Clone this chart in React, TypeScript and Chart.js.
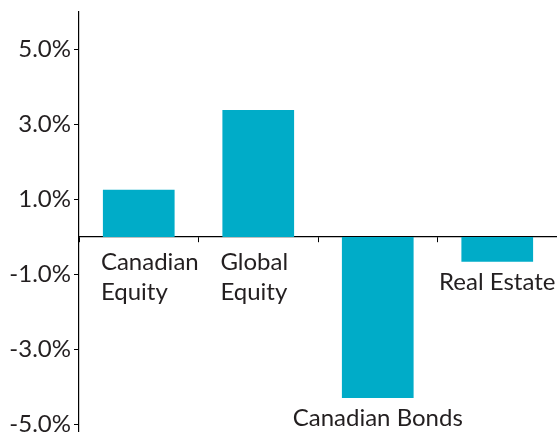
import React, { useEffect, useRef } from "react";
import { Chart, registerables } from "chart.js";

Chart.register(...registerables);

const categories = ["Canadian Equity", "Global Equity", "Canadian Bonds", "Real Estate"];
const labelLines = [["Canadian", "Equity"], ["Global", "Equity"], ["Canadian Bonds"], ["Real Estate"]];
const values = [1.26, 3.39, -4.29, -0.66];
const yTickValues = [-5, -3, -1, 1, 3, 5];
const yMin = -5.2;
const yMax = 6;

const FONT = "Lato";
const FONT_SIZE = 24;
const TEXT_COLOR = "#231f20";
const BAR_COLOR = "#00acc8";

const labelPlugin = {
  id: "barLabels",
  afterDatasetsDraw(chart: any) {
    const ctx = chart.ctx;
    const meta = chart.getDatasetMeta(0);
    const yScale = chart.scales.y;
    const zero = yScale.getPixelForValue(0);
    ctx.save();
    ctx.fillStyle = TEXT_COLOR;
    ctx.font = `${FONT_SIZE}px ${FONT}`;
    ctx.textBaseline = "alphabetic";
    meta.data.forEach((bar: any, i: number) => {
      const v = values[i];
      const lines = labelLines[i];
      const ref = v >= 0 ? zero + 5 : bar.y;
      const baseline = ref + 28;
      const multi = lines.length > 1;
      const left = bar.x - bar.width / 2 - 2;
      ctx.textAlign = multi ? "left" : "center";
      lines.forEach((line: string, j: number) => {
        ctx.fillText(line, multi ? left : bar.x, baseline + j * 30);
      });
    });
    ctx.restore();
  },
};

export default function App() {
  const ref = useRef<HTMLCanvasElement | null>(null);
  useEffect(() => {
    document.body.style.margin = "0";
    const chart = new Chart(ref.current as HTMLCanvasElement, {
      type: "bar",
      data: {
        labels: categories,
        datasets: [
          {
            data: values,
            backgroundColor: BAR_COLOR,
            borderWidth: 0,
            barPercentage: 0.6,
            categoryPercentage: 1,
          },
        ],
      },
      options: {
        animation: false,
        responsive: false,
        layout: { padding: 0 },
        plugins: { legend: { display: false }, tooltip: { enabled: false } },
        scales: {
          x: {
            position: { y: 0 } as any,
            offset: true,
            ticks: { display: false },
            grid: {
              display: true,
              offset: true,
              drawOnChartArea: false,
              drawTicks: true,
              tickLength: 5,
              color: "#000",
              lineWidth: 1,
            },
            border: { display: true, color: "#000", width: 1.2 },
          },
          y: {
            min: yMin,
            max: yMax,
            afterBuildTicks(scale: any) {
              scale.ticks = yTickValues.map((v) => ({ value: v }));
            },
            afterFit(scale: any) {
              scale.width = 79;
              scale.paddingTop = 12;
              scale.paddingBottom = 0;
            },
            ticks: {
              color: TEXT_COLOR,
              font: { family: FONT, size: FONT_SIZE },
              padding: 3,
              callback: (v: any) => `${Number(v).toFixed(1)}%`,
            },
            grid: {
              display: true,
              drawOnChartArea: false,
              drawTicks: true,
              tickLength: 5,
              color: "#000",
            },
            border: { display: true, color: "#000", width: 1.2 },
          },
        },
      },
      plugins: [labelPlugin],
    });
    return () => chart.destroy();
  }, []);
  return (
    <div style={{ width: 557, height: 432, overflow: "hidden" }}>
      <canvas ref={ref} width={557} height={432} style={{ display: "block" }} />
    </div>
  );
}
